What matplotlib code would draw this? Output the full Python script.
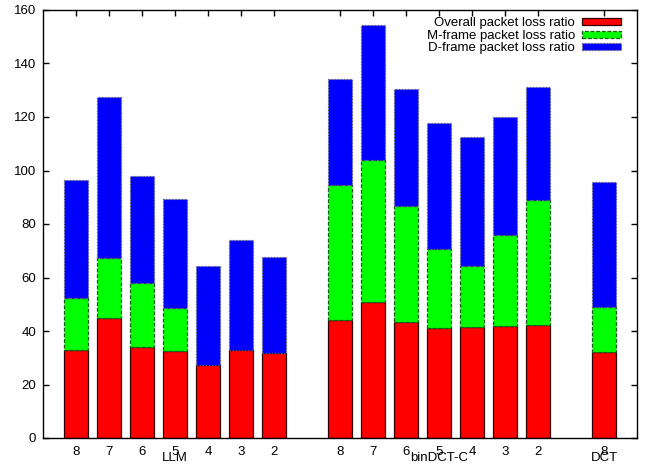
import matplotlib
matplotlib.use("Agg")
import matplotlib.pyplot as plt
from matplotlib.patches import Patch
import numpy as np

plt.rcParams['font.family'] = ['Liberation Sans', 'DejaVu Sans']

# ---- data ----
groups = ["LLM", "binDCT-C", "DCT"]
tick_labels = ["8", "7", "6", "5", "4", "3", "2",
               "8", "7", "6", "5", "4", "3", "2",
               "8"]
group_sizes = [7, 7, 1]

overall = [33.0, 44.7, 33.9, 32.5, 27.3, 33.0, 31.8,
           44.1, 51.0, 43.4, 41.2, 41.5, 41.9, 42.1,
           32.3]
mframe = [19.3, 22.7, 23.9, 16.0, 0.0, 0.0, 0.0,
          50.5, 52.9, 43.3, 29.3, 22.7, 34.0, 46.9,
          16.6]
dframe = [44.0, 60.1, 40.0, 40.7, 37.1, 41.0, 35.9,
          39.6, 50.5, 43.8, 47.3, 48.4, 44.1, 42.1,
          46.7]

series_names = ["Overall packet loss ratio", "M-frame packet loss ratio",
                "D-frame packet loss ratio"]

# ---- positions (gap of one empty slot between groups) ----
positions = []
start = 0
for n in group_sizes:
    positions.extend(range(start, start + n))
    start += n + 1
positions = np.array(positions, dtype=float)

group_centers = []
idx = 0
for n in group_sizes:
    group_centers.append(positions[idx:idx + n].mean())
    idx += n

fig = plt.figure(figsize=(6.52, 4.68), dpi=100)
ax = fig.add_axes([43 / 652, 30 / 468, 594 / 652, 428 / 468])

w = 0.74
o = np.array(overall)
m = np.array(mframe)
d = np.array(dframe)

ax.bar(positions, o, width=w, color="#ff0000", edgecolor="#300000",
       linewidth=0.9, linestyle="-", zorder=3)
mask = m > 0
ax.bar(positions[mask], m[mask], width=w, bottom=o[mask], color="#00ff00",
       edgecolor="#1a5a1a", linewidth=0.9, linestyle=(0, (3, 1.5)), zorder=3)
ax.bar(positions, d, width=w, bottom=o + m, color="#0000ff",
       edgecolor="#606060", linewidth=0.9, linestyle=(0, (1, 1.5)), zorder=3)

ax.set_xlim(-1, 17)
ax.set_ylim(0, 160)
ax.set_yticks(np.arange(0, 161, 20))
ax.set_xticks(positions)
ax.set_xticklabels(tick_labels)
ax.tick_params(axis="both", direction="in", length=4, width=1,
               top=True, right=True, labelsize=9.5, colors="black", pad=5)
ax.tick_params(axis="x", pad=6)
ax.set_axisbelow(True)
for s in ax.spines.values():
    s.set_linewidth(1.0)
    s.set_zorder(4)

for gname, cx in zip(groups, group_centers):
    ax.annotate(gname, xy=(cx, 0), xycoords=("data", "axes fraction"),
                xytext=(0, -14.5), textcoords="offset points",
                ha="center", va="center", fontsize=9.5)

handles = [
    Patch(facecolor="#ff0000", edgecolor="#300000", linewidth=0.9),
    Patch(facecolor="#00ff00", edgecolor="#1a5a1a", linewidth=0.9, linestyle=(0, (3, 1.5))),
    Patch(facecolor="#0000ff", edgecolor="#606060", linewidth=0.9, linestyle=(0, (1, 1.5))),
]
leg = ax.legend(handles, series_names, loc="upper right", frameon=False,
                markerfirst=False, fontsize=9.5, handlelength=2.9,
                handleheight=0.45, handletextpad=0.55, labelspacing=0.05,
                borderaxespad=0.3, bbox_to_anchor=(0.988, 1.005))
for t in leg.get_texts():
    t.set_ha("right")

fig.savefig("out.png", dpi=100)
